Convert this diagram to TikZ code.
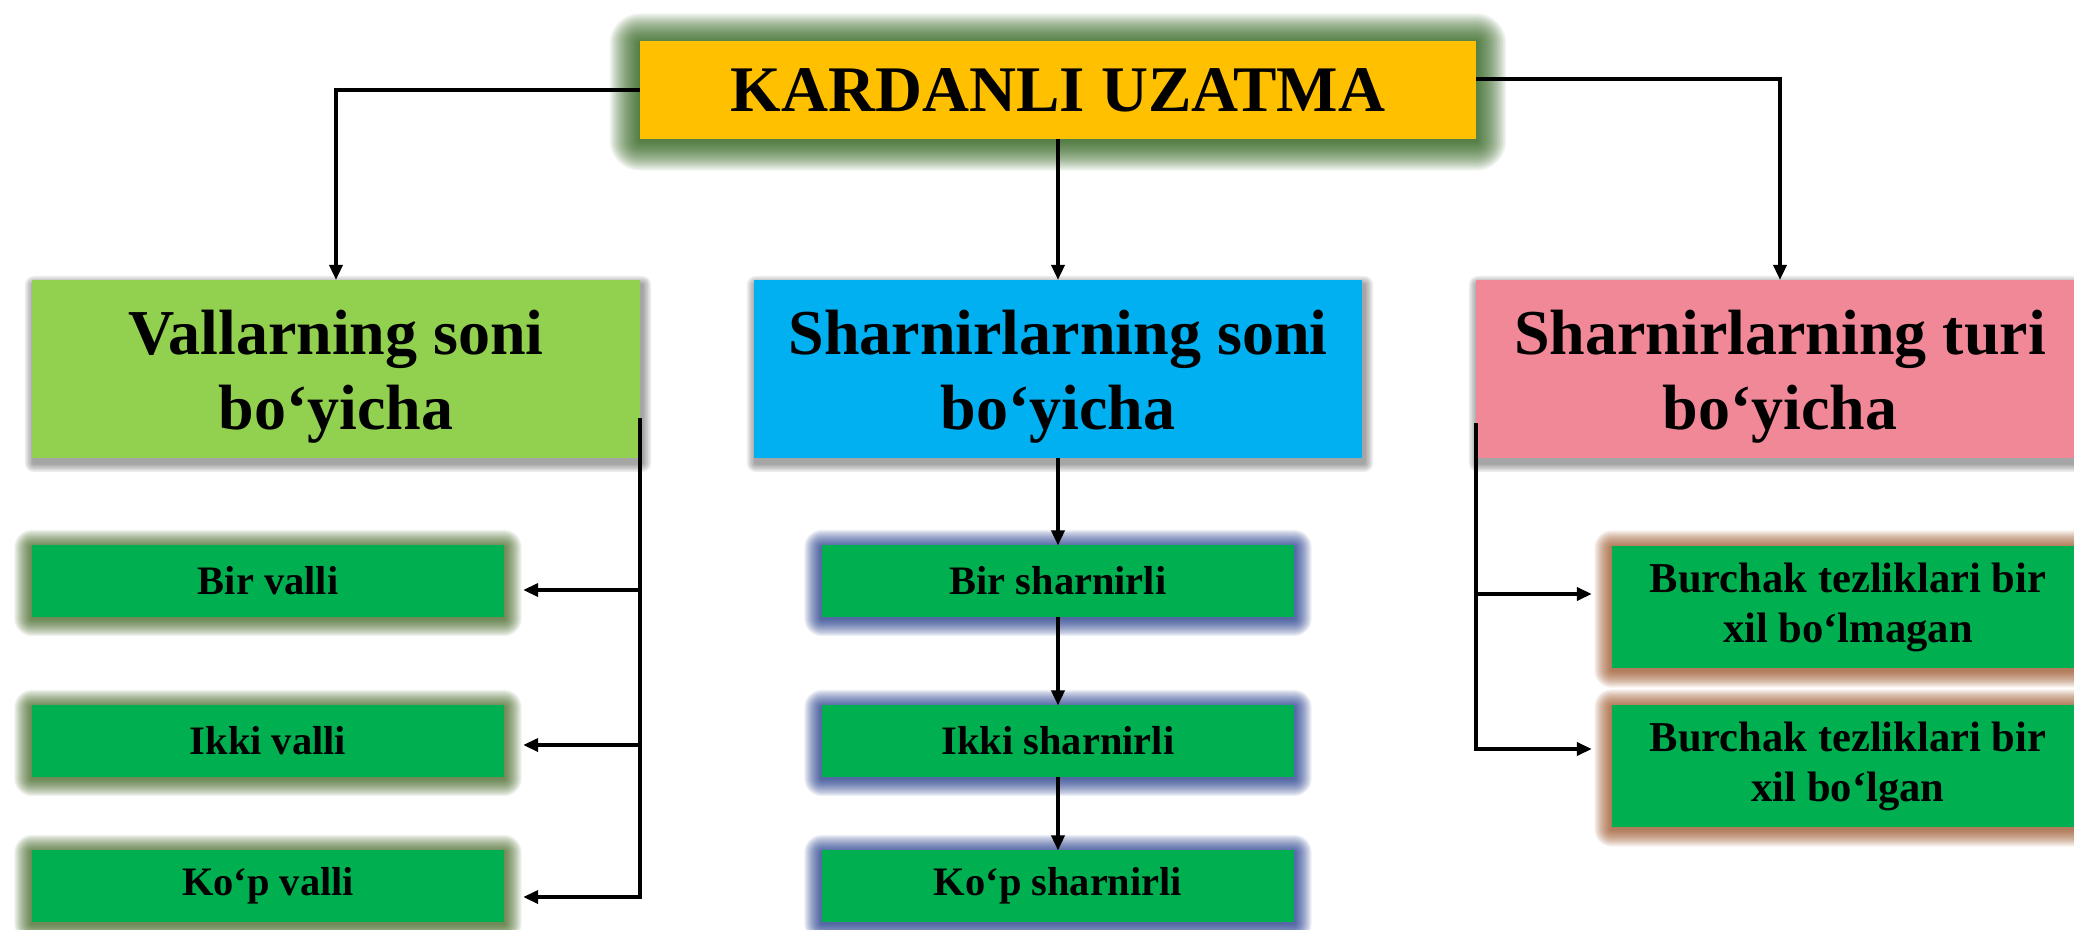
\documentclass[tikz,border=0pt]{standalone}
\usepackage{fontspec}
\setmainfont{Liberation Serif}
\usetikzlibrary{arrows.meta,calc,positioning,backgrounds}
\definecolor{titlefill}{HTML}{FFC000}
\definecolor{valfill}{HTML}{92D050}
\definecolor{sonifill}{HTML}{00B0F0}
\definecolor{turifill}{RGB}{240,136,152}
\definecolor{leaffill}{HTML}{00B050}
\definecolor{titleglow}{RGB}{30,85,10}
\definecolor{valglow}{RGB}{40,80,5}
\definecolor{soniglow}{RGB}{0,30,120}
\definecolor{turiglow}{RGB}{140,60,10}
\newcommand{\hstrut}{\rule{0pt}{0.59cm}}
\tikzstyle{element}=[
  rectangle,
  inner sep=0pt,
  outer sep=0pt,
  text centered,
]
\tikzstyle{title}=[
  element,
  fill=titlefill,
  minimum width=8.36cm,
  minimum height=0.97cm,
  font={\fontsize{18.5}{22}\selectfont\bfseries},
]
\tikzstyle{header}=[
  element,
  align=center,
  minimum width=6.08cm,
  minimum height=1.78cm,
  font={\fontsize{18.2}{21.3}\selectfont\bfseries},
]
\tikzstyle{leaf}=[
  element,
  fill=leaffill,
  minimum width=4.72cm,
  minimum height=0.71cm,
  font={\fontsize{11.5}{14}\selectfont\bfseries},
]
\tikzstyle{twoline}=[
  align=center,
  minimum height=1.22cm,
  font={\fontsize{12.1}{14.2}\selectfont\bfseries},
]
\tikzstyle{arrow}=[
  draw=black,
  line width=1pt,
]
\tikzset{
  x=0.01cm, y=-0.01cm,
  >={Triangle[length=0.15cm,width=0.13cm]},
}
% soft glow round a node: node, colour, step, steps
\newcommand{\glow}[4]{%
  \foreach \k in {1,...,#4}
    \fill[#2, fill opacity=0.065, rounded corners=\k*#3*0.1mm]
      ($(#1.north west)+(-\k*#3,-\k*#3+2)$) rectangle
      ($(#1.south east)+(\k*#3,\k*#3+2)$);
}
% grey drop shadow under a header
\newcommand{\dropshade}[1]{%
  \foreach \k in {1,...,6}
    \fill[black, fill opacity=0.07, rounded corners=\k*0.15mm]
      ($(#1.north west)+(2-\k*1.5,5-\k*1.5)$) rectangle
      ($(#1.south east)+(2+\k*1.5,5+\k*1.5)$);
}

\begin{document}
\begin{tikzpicture}
  \useasboundingbox (0,0) rectangle (2074,930);
  \node (title) [title] at (1058,90) {KARDANLI UZATMA};
  %%
  \node (hval) [header, fill=valfill] at (336,369) {\hstrut Vallarning soni\\bo‘yicha};
  \node (hsoni) [header, fill=sonifill] at (1058,369) {\hstrut Sharnirlarning soni\\bo‘yicha};
  \node (hturi) [header, fill=turifill] at (1780,369) {\hstrut Sharnirlarning turi\\bo‘yicha};
  %%
  \node (bval) [leaf] at (268,581) {Bir valli};
  \node (ival) [leaf] at (268,741) {Ikki valli};
  \node (kval) [leaf] at (268,886) {Ko‘p valli};
  \node (bsh) [leaf] at (hsoni|-bval) {Bir sharnirli};
  \node (ish) [leaf] at (hsoni|-ival) {Ikki sharnirli};
  \node (ksh) [leaf] at (hsoni|-kval) {Ko‘p sharnirli};
  \node (ntez) [leaf, twoline] at (1848,607) {Burchak tezliklari bir\\xil bo‘lmagan};
  \node (tez) [leaf, twoline] at (1848,766) {Burchak tezliklari bir\\xil bo‘lgan};
  %%
  \begin{scope}[on background layer]
    \glow{title}{titleglow}{1.5}{20}
    \dropshade{hval}
    \dropshade{hsoni}
    \dropshade{hturi}
    \foreach \n in {bval,ival,kval} {\glow{\n}{valglow}{1.1}{16}}
    \foreach \n in {bsh,ish,ksh} {\glow{\n}{soniglow}{1.1}{16}}
    \foreach \n in {ntez,tez} {\glow{\n}{turiglow}{1.1}{16}}
  \end{scope}
  %%
  \draw [->, arrow] (title.west) -| (hval.north);
  \draw [->, arrow] (title.south) -- (hsoni.north);
  \coordinate (R) at ($(title.east)+(0,-11)$);
  \draw [->, arrow] (R) -| (hturi.north);
  %%
  \coordinate (L) at ($(hval.east)+(0,49)$);
  \coordinate (L1) at ([yshift=-0.09cm]bval.east);
  \coordinate (L2) at ([yshift=-0.04cm]ival.east);
  \coordinate (L3) at ([yshift=-0.11cm]kval.east);
  \draw [->, arrow, shorten >=0.19cm] (L) |- (L3);
  \draw [->, arrow, shorten >=0.19cm] (L|-L1) -- (L1);
  \draw [->, arrow, shorten >=0.19cm] (L|-L2) -- (L2);
  %%
  \draw [->, arrow] (hsoni.south) -- (bsh.north);
  \draw [->, arrow] (bsh.south) -- (ish.north);
  \draw [->, arrow] (ish.south) -- (ksh.north);
  %%
  \coordinate (T) at ($(hturi.west)+(0,54)$);
  \coordinate (T1) at ([yshift=0.13cm]ntez.west);
  \coordinate (T2) at ([yshift=0.17cm]tez.west);
  \draw [->, arrow, shorten >=0.2cm] (T) |- (T2);
  \draw [->, arrow, shorten >=0.2cm] (T|-T1) -- (T1);
\end{tikzpicture}
\end{document}
